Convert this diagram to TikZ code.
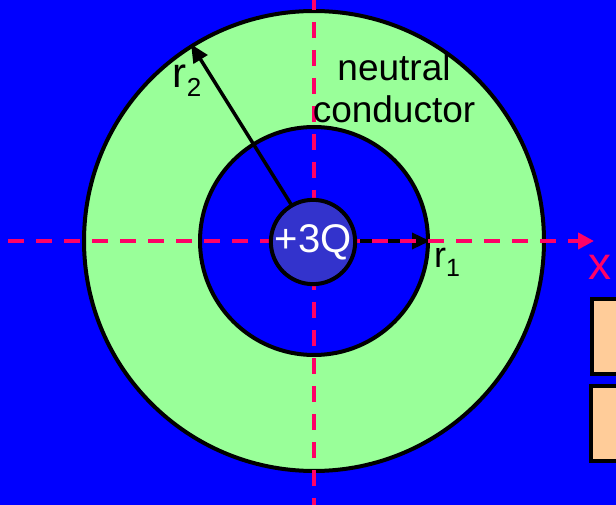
\documentclass[tikz,border=0pt]{standalone}
\usepackage{fontspec}
\setmainfont{Liberation Sans}
\usetikzlibrary{arrows.meta}
\definecolor{slideblue}{HTML}{0000FF}
\definecolor{shellgreen}{HTML}{99FF99}
\definecolor{chargeblue}{HTML}{3333CC}
\definecolor{axisred}{HTML}{FF0066}
\definecolor{boxorange}{HTML}{FFCC99}
\tikzset{
  shell/.style={circle, draw=black, line width=4pt, inner sep=0pt},
  chargenode/.style={circle, draw=black, fill=chargeblue, line width=4pt, inner sep=0pt, minimum size=82pt, text=white, font=\fontsize{40}{40}\selectfont},
  radiusarrow/.style={black, line width=3.5pt, -{Triangle[length=18pt,width=16pt]}},
  axisline/.style={axisred, line width=4pt, dash pattern=on 16pt off 12pt},
  axisarrow/.style={axisline, -{Triangle[length=16pt,width=16pt]}},
  biglabel/.style={inner sep=0pt, font=\fontsize{37}{42}\selectfont},
  sidebox/.style={draw=black, fill=boxorange, line width=4pt, minimum width=60pt, minimum height=75pt, anchor=north west}
}
\begin{document}
\begin{tikzpicture}[x=1pt,y=-1pt]
  \clip (0,0) rectangle (616,505);
  \fill[slideblue] (0,0) rectangle (616,505);
  % shell and cavity
  \node[shell, fill=shellgreen, minimum size=460pt] (outer) at (314,241) {};
  \node[shell, fill=slideblue, minimum size=228pt] (inner) at (314,241) {};
  % radii
  \draw[radiusarrow] (inner.center) -- (inner.east);
  \draw[radiusarrow] (outer.center) -- (outer.122);
  % axes
  \coordinate (xstart) at (0,241);
  \coordinate (xend) at (594,241);
  \coordinate (ytop) at (314,0);
  \coordinate (ybot) at (314,505);
  \draw[axisarrow, dash phase=20pt] (xstart) -- (xend);
  \draw[axisline, dash phase=6pt] (ytop) -- (ybot);
  % point charge
  \node[chargenode] (charge) at (313,242) {+3Q};
  % labels
  \node[biglabel, font=\fontsize{42}{42}\selectfont] (rtwo) at (187,81) {r\raisebox{-9pt}{\fontsize{26}{26}\selectfont 2}};
  \node[biglabel, font=\fontsize{36}{36}\selectfont] (rone) at (447,262) {r\raisebox{-9pt}{\fontsize{25}{25}\selectfont 1}};
  \node[biglabel, align=center] (neutral) at (394,88) {neutral\\conductor};
  \node[biglabel, text=axisred, font=\fontsize{46}{46}\selectfont] (xlabel) at (600,267) {x};
  \node[sidebox] (boxa) at (590,297) {};
  \node[sidebox] (boxb) at (589,384) {};
\end{tikzpicture}
\end{document}
